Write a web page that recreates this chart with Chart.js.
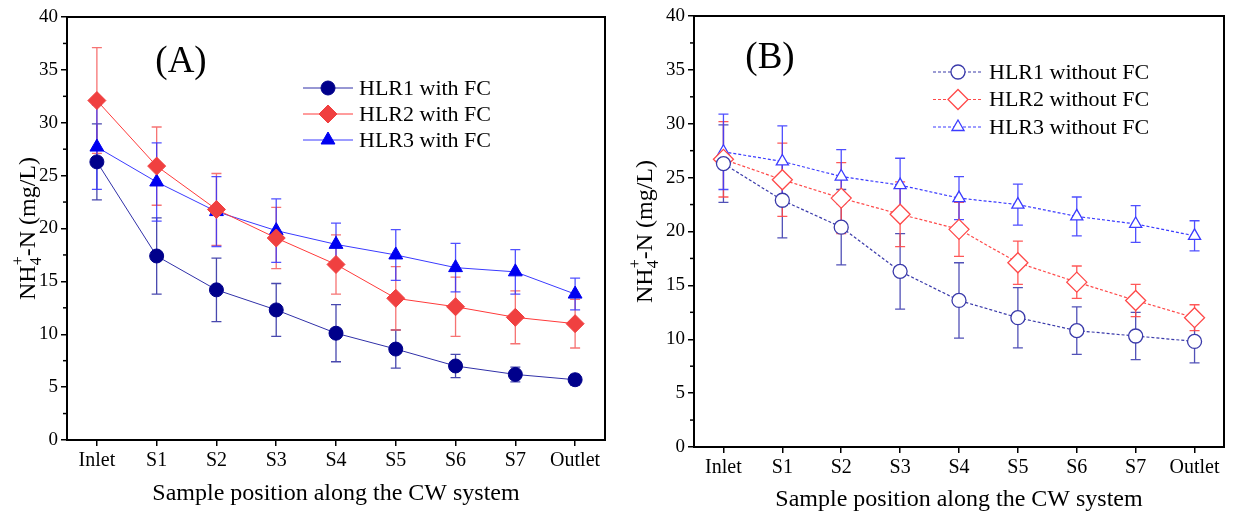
<!DOCTYPE html>
<html>
<head>
<meta charset="utf-8">
<script src="https://cdn.jsdelivr.net/npm/chart.js@4.4.1/dist/chart.umd.min.js"></script>
<style>
  body { margin: 0; background: #fff; }
  canvas { position: absolute; top: 0; }
  #chartA { left: 0; }
  #chartB { left: 617px; }
</style>
</head>
<body>
<canvas id="chartA" width="620" height="514"></canvas>
<canvas id="chartB" width="620" height="514"></canvas>
<script>
const positions = ['Inlet', 'S1', 'S2', 'S3', 'S4', 'S5', 'S6', 'S7', 'Outlet'];
const yTicks = [0, 5, 10, 15, 20, 25, 30, 35, 40];

// (A) with FC
const hlr1With = [26.3, 17.4, 14.2, 12.3, 10.1, 8.6, 7.0, 6.2, 5.7];
const hlr1WithErr = [3.6, 3.6, 3.0, 2.5, 2.7, 1.8, 1.1, 0.7, 0.5];
const hlr2With = [32.1, 25.9, 21.8, 19.1, 16.6, 13.4, 12.6, 11.6, 11.0];
const hlr2WithErr = [5.0, 3.7, 3.4, 2.9, 2.8, 3.0, 2.8, 2.5, 2.3];
const hlr3With = [27.7, 24.4, 21.6, 19.8, 18.5, 17.5, 16.3, 15.9, 13.8];
const hlr3WithErr = [4.0, 3.7, 3.3, 3.0, 2.0, 2.4, 2.3, 2.1, 1.5];

// (B) without FC
const hlr1Without = [26.3, 22.9, 20.4, 16.3, 13.6, 12.0, 10.8, 10.3, 9.8];
const hlr1WithoutErr = [3.6, 3.5, 3.5, 3.5, 3.5, 2.8, 2.2, 2.2, 2.0];
const hlr2Without = [26.7, 24.8, 23.1, 21.6, 20.2, 17.1, 15.3, 13.6, 12.0];
const hlr2WithoutErr = [3.5, 3.4, 3.3, 3.0, 2.5, 2.0, 1.5, 1.5, 1.2];
const hlr3Without = [27.4, 26.5, 25.1, 24.3, 23.1, 22.5, 21.4, 20.7, 19.6];
const hlr3WithoutErr = [3.5, 3.3, 2.5, 2.5, 2.0, 1.9, 1.8, 1.7, 1.4];

const serif = '"Liberation Serif", "Times New Roman", serif';

function drawYTitle(ctx, cx, cy, size) {
  ctx.save();
  ctx.translate(cx, cy);
  ctx.rotate(-Math.PI / 2);
  let main = size + 'px ' + serif, small = Math.round(size * 0.68) + 'px ' + serif;
  ctx.font = main;
  let w1 = ctx.measureText('NH').width, w3 = ctx.measureText('-N (mg/L)').width;
  ctx.font = small;
  let w2 = Math.max(ctx.measureText('4').width, ctx.measureText('+').width);
  let x0 = -(w1 + w2 + w3) / 2, base = size * 0.35;
  ctx.fillStyle = '#000';
  ctx.font = main;
  ctx.fillText('NH', x0, base);
  ctx.font = small;
  ctx.fillText('4', x0 + w1, base + size * 0.25);
  ctx.fillText('+', x0 + w1, base - size * 0.5);
  ctx.font = main;
  ctx.fillText('-N (mg/L)', x0 + w1 + w2, base);
  ctx.restore();
}

const decor = {
  id: 'decor',
  beforeDatasetsDraw(chart) {
    let ctx = chart.ctx, x = chart.scales.x, y = chart.scales.y;
    chart.data.datasets.forEach(ds => {
      ctx.save();
      ctx.strokeStyle = ds.errColor;
      ctx.lineWidth = 1.3;
      ds.data.forEach((v, i) => {
        let px = x.getPixelForValue(i);
        let top = y.getPixelForValue(v + ds.errors[i]);
        let bot = y.getPixelForValue(v - ds.errors[i]);
        ctx.beginPath();
        ctx.moveTo(px, top); ctx.lineTo(px, bot);
        ctx.moveTo(px - 5, top); ctx.lineTo(px + 5, top);
        ctx.moveTo(px - 5, bot); ctx.lineTo(px + 5, bot);
        ctx.stroke();
      });
      ctx.restore();
    });
  },
  afterDraw(chart, args, opts) {
    let ctx = chart.ctx, area = chart.chartArea, y = chart.scales.y;
    ctx.save();
    // frame
    ctx.strokeStyle = '#000';
    ctx.lineWidth = 2;
    ctx.strokeRect(area.left, area.top, area.right - area.left, area.bottom - area.top);
    // minor ticks
    ctx.lineWidth = 1.5;
    for (let v = 2.5; v < 40; v += 5) {
      let py = y.getPixelForValue(v);
      ctx.beginPath();
      ctx.moveTo(area.left, py);
      ctx.lineTo(area.left - 4, py);
      ctx.stroke();
    }
    // panel tag
    ctx.fillStyle = '#000';
    ctx.font = opts.tagSize + 'px ' + serif;
    ctx.textAlign = 'center';
    ctx.textBaseline = 'middle';
    ctx.fillText(opts.tag, opts.tagX, opts.tagY);
    // legend
    ctx.textAlign = 'left';
    ctx.font = opts.legendSize + 'px ' + serif;
    chart.data.datasets.forEach((ds, i) => {
      let ly = opts.legendY + i * opts.legendGap;
      ctx.save();
      ctx.strokeStyle = ds.borderColor;
      ctx.lineWidth = ds.borderWidth;
      ctx.setLineDash(ds.borderDash || []);
      ctx.beginPath();
      ctx.moveTo(opts.legendX, ly);
      ctx.lineTo(opts.legendX + 50, ly);
      ctx.stroke();
      ctx.restore();
      ctx.fillStyle = ds.pointBackgroundColor;
      ctx.strokeStyle = ds.pointBorderColor;
      ctx.lineWidth = ds.pointBorderWidth;
      Chart.helpers.drawPoint(ctx, {
        pointStyle: ds.pointStyle, radius: ds.pointRadius, rotation: 0, borderWidth: ds.pointBorderWidth
      }, opts.legendX + 25, ly);
      ctx.fillStyle = '#000';
      ctx.fillText(ds.label, opts.legendX + 56, ly + 1);
    });
    ctx.restore();
    drawYTitle(ctx, opts.yTitleX, (area.top + area.bottom) / 2, 24);
  }
};

function makeDataset(label, data, errors, color, errColor, lineColor, style, radius, open) {
  return {
    label, data, errors, errColor,
    borderColor: lineColor,
    borderWidth: open ? 1.2 : 1,
    borderDash: open ? [3, 2] : [],
    pointStyle: style,
    pointRadius: radius,
    pointHoverRadius: radius,
    pointBorderColor: color,
    pointBackgroundColor: open ? '#fff' : color,
    pointBorderWidth: open ? 1.3 : 1,
    tension: 0
  };
}

function makeScales(yWidth, xHeight, titlePad) {
  let grid = { drawOnChartArea: false, drawTicks: true, tickLength: 6, color: '#000', lineWidth: 1.5 };
  let border = { display: true, color: '#000', width: 2 };
  return {
    x: {
      type: 'category',
      labels: positions,
      offset: true,
      grid, border,
      ticks: { color: '#000', font: { family: serif, size: 20 }, padding: 3, maxRotation: 0, autoSkip: false },
      title: { display: true, text: 'Sample position along the CW system', color: '#000',
               font: { family: serif, size: 24 }, padding: { top: 0, bottom: titlePad } },
      afterFit: s => { s.height = xHeight; }
    },
    y: {
      min: 0, max: 40,
      afterBuildTicks: s => { s.ticks = yTicks.map(v => ({ value: v })); },
      grid, border,
      ticks: { color: '#000', font: { family: serif, size: 19 }, padding: 3 },
      afterFit: s => { s.width = yWidth; }
    }
  };
}

new Chart('chartA', {
  type: 'line',
  plugins: [decor],
  data: {
    labels: positions,
    datasets: [
      makeDataset('HLR1 with FC', hlr1With, hlr1WithErr, '#00008b', 'rgba(40,40,160,0.85)', '#3030a8', 'circle', 7, false),
      makeDataset('HLR2 with FC', hlr2With, hlr2WithErr, '#f04040', 'rgba(245,90,90,0.85)', '#ff3a3a', 'rectRot', 9, false),
      makeDataset('HLR3 with FC', hlr3With, hlr3WithErr, '#0000f0', 'rgba(50,50,255,0.85)', '#3a3aff', 'triangle', 8, false)
    ]
  },
  options: {
    responsive: false,
    animation: false,
    layout: { padding: { top: 17, right: 15, left: 0, bottom: 0 } },
    scales: makeScales(67, 74, 6),
    plugins: {
      legend: { display: false },
      tooltip: { enabled: false },
      decor: { tag: '(A)', tagSize: 37, tagX: 181, tagY: 62, legendX: 303, legendY: 88, legendGap: 26,
               legendSize: 22, yTitleX: 27 }
    }
  }
});

new Chart('chartB', {
  type: 'line',
  plugins: [decor],
  data: {
    labels: positions,
    datasets: [
      makeDataset('HLR1 without FC', hlr1Without, hlr1WithoutErr, '#3a3aaa', 'rgba(50,50,170,0.85)', '#3a3aaa', 'circle', 7, true),
      makeDataset('HLR2 without FC', hlr2Without, hlr2WithoutErr, '#ff4a4a', 'rgba(255,70,70,0.9)', '#ff4a4a', 'rectRot', 10, true),
      makeDataset('HLR3 without FC', hlr3Without, hlr3WithoutErr, '#3c3cff', 'rgba(60,60,255,0.9)', '#3c3cff', 'triangle', 7, true)
    ]
  },
  options: {
    responsive: false,
    animation: false,
    layout: { padding: { top: 16, right: 13, left: 0, bottom: 0 } },
    scales: makeScales(77, 67, 0),
    plugins: {
      legend: { display: false },
      tooltip: { enabled: false },
      decor: { tag: '(B)', tagSize: 37, tagX: 153, tagY: 58, legendX: 316, legendY: 72, legendGap: 27.5,
               legendSize: 22, yTitleX: 27 }
    }
  }
});
</script>
</body>
</html>
